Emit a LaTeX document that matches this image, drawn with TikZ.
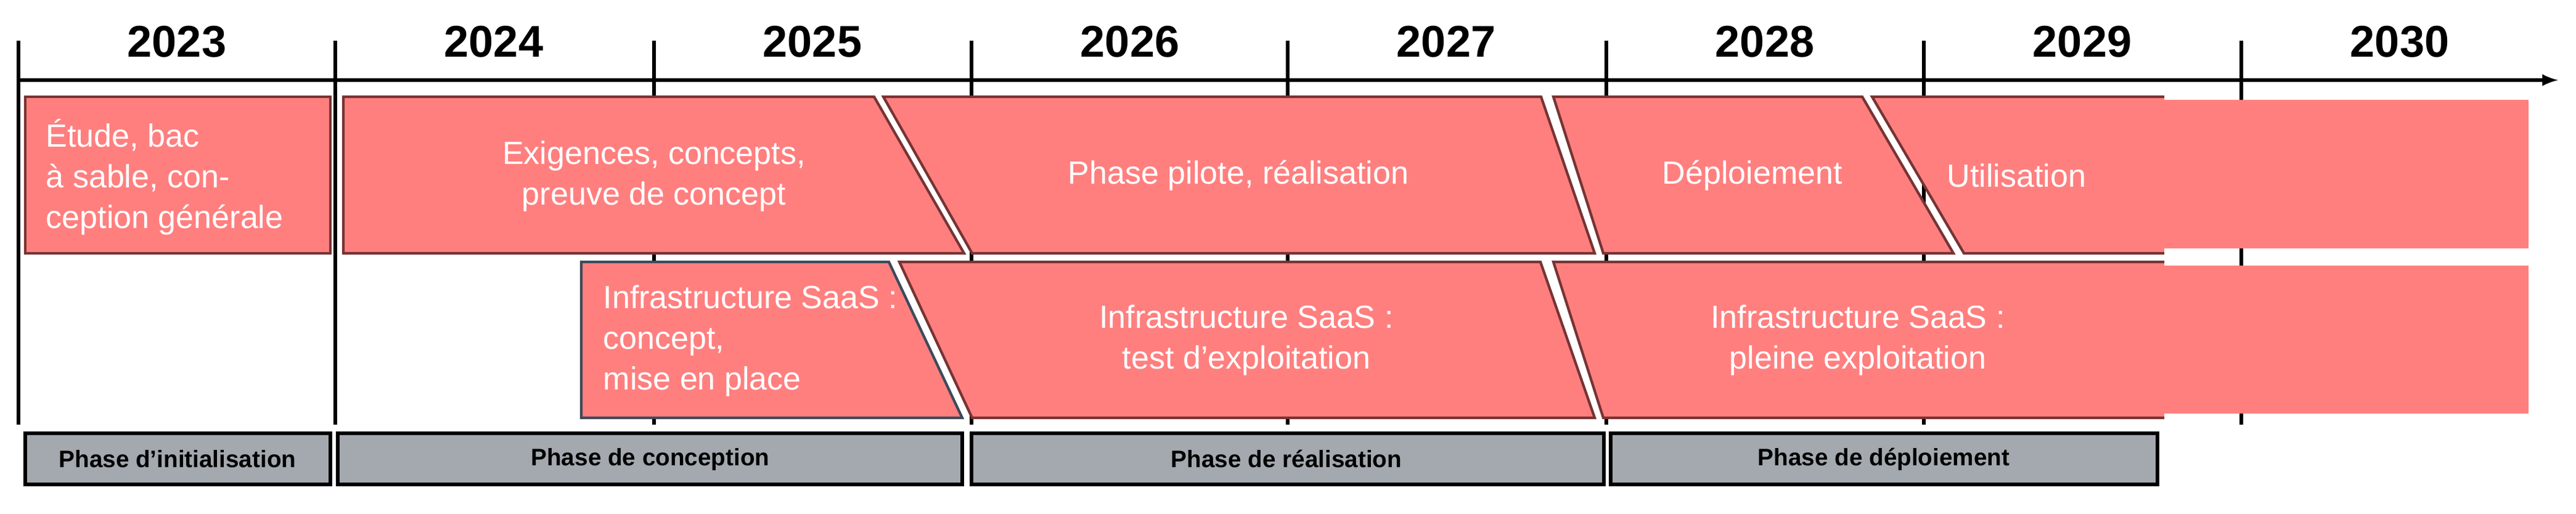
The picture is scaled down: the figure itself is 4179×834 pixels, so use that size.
\documentclass[tikz,border=0pt]{standalone}
\usepackage{fontspec}
\setmainfont{Liberation Sans}
\usetikzlibrary{arrows,positioning}
\definecolor{mpink}{HTML}{FF7F7F}
\definecolor{mbrown}{HTML}{773333}
\definecolor{mslate}{HTML}{3D4A5A}
\definecolor{mgrey}{HTML}{A3A9AE}
\tikzstyle{bar}=[fill=mpink, draw=mbrown, line width=1.2pt]
\tikzstyle{barslate}=[fill=mpink, draw=mslate, line width=1.2pt]
\tikzstyle{edge}=[draw=mbrown, line width=1.2pt]
\tikzstyle{txt}=[text=white, font=\fontsize{14.8}{18.8}\selectfont, inner sep=0pt]
\tikzstyle{phase}=[fill=mgrey, draw=black, line width=1.5pt]
\tikzstyle{phasetxt}=[font=\fontsize{11}{13}\selectfont\bfseries, inner sep=0pt]
\tikzstyle{year}=[font=\fontsize{20.5}{24}\selectfont\bfseries, inner sep=0pt]
\tikzstyle{l1}=[line width=1.5pt]

\begin{document}
\begin{tikzpicture}[x=0.01cm, y=-0.01cm]
    \useasboundingbox (0,0) rectangle (4179,834);

    % time axis
    \foreach \x [count=\i from 0] in {30,544,1061,1576,2089,2606,3121,3636}{
        \draw[l1] (\x,66) -- (\x,689);
        \pgfmathtruncatemacro{\yr}{2023+\i}
        \node[year] (y\yr) at (\x+257,68) {\yr};
    }
    \coordinate (t0) at (30,130);
    \coordinate (t1) at (4150,130);
    \draw[l1, -latex] (t0) -- (t1);

    % first row
    \path[bar] (41,157) rectangle (536,411);
    \path[bar] (557,157) -- (1418,157) -- (1564,411) -- (557,411) -- cycle;
    \path[bar] (1433,157) -- (2500,157) -- (2587,411) -- (1577,411) -- cycle;
    \path[bar] (2520,157) -- (3021,157) -- (3169,411) -- (2601,411) -- cycle;
    \fill[mpink] (3400,162) rectangle (4102,403);
    \fill[mpink] (3037,157) -- (3511,157) -- (3511,411) -- (3186,411) -- cycle;
    \draw[edge] (3511,157) -- (3037,157) -- (3186,411) -- (3511,411);

    % second row
    \path[barslate] (943,425) -- (1442,425) -- (1561,678) -- (943,678) -- cycle;
    \path[bar] (1459,425) -- (2499,425) -- (2587,678) -- (1577,678) -- cycle;
    \fill[mpink] (3400,431) rectangle (4102,671);
    \fill[mpink] (2520,425) -- (3511,425) -- (3511,678) -- (2601,678) -- cycle;
    \draw[edge] (3511,425) -- (2520,425) -- (2601,678) -- (3511,678);

    % labels
    \node[txt, anchor=west, align=left] (etude) at (74,287) {Étude, bac\\à sable, con-\\ception générale};
    \node[txt, align=center] (exig) at (1061,286) {Exigences, concepts,\\preuve de concept};
    \node[txt, anchor=west, align=left] (saas1) at (978,553) {Infrastructure SaaS :\\concept,\\mise en place};
    \node[txt] (pilote) at (2009,285) {Phase pilote, réalisation};
    \node[txt, align=center] (saas2) at (2022,552) {Infrastructure SaaS :\\test d'exploitation};
    \node[txt] (deploi) at (2843,285) {Déploiement};
    \node[txt, anchor=west] (util) at (3158,285) {Utilisation};
    \node[txt, align=center] (saas3) at (3014,552) {Infrastructure SaaS :\\pleine exploitation};

    % phases
    \path[phase] (41,703) rectangle (536,786);
    \path[phase] (548,703) rectangle (1561,786);
    \path[phase] (1576,703) rectangle (2602,786);
    \path[phase] (2613,703) rectangle (3500,786);
    \node[phasetxt] (ph1) at (288,745) {Phase d’initialisation};
    \node[phasetxt] (ph2) at (1055,745) {Phase de conception};
    \node[phasetxt] (ph3) at (2087,745) {Phase de réalisation};
    \node[phasetxt] (ph4) at (3056,745) {Phase de déploiement};

\end{tikzpicture}
\end{document}
